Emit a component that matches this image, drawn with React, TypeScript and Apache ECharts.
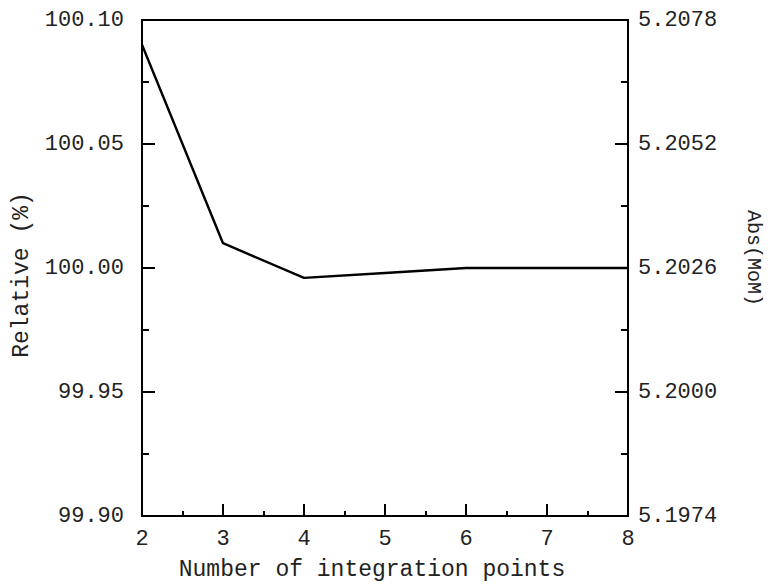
import React, { useEffect, useRef } from "react";
import * as echarts from "echarts";

// Number of integration points
const points = [2, 3, 4, 5, 6, 7, 8];
// Relative result (%)
const relative = [100.09, 100.01, 99.996, 99.998, 100.0, 100.0, 100.0];

// Left axis (relative, %) range
const relMin = 99.9;
const relMax = 100.1;
const relStep = 0.05;

// Right axis (absolute, MoM) range
const absMin = 5.1974;
const absMax = 5.2078;
const absStep = 0.0026;

const FONT = "Liberation Mono";
const INK = "#222";

export default function App() {
  const ref = useRef<HTMLDivElement>(null);

  useEffect(() => {
    document.body.style.margin = "0";
    if (!ref.current) return;
    const chart = echarts.init(ref.current, null, { renderer: "svg" });

    const labelStyle = { fontFamily: FONT, fontSize: 22, color: INK };
    const lineStyle = { color: "#000", width: 2 };

    chart.setOption({
      animation: false,
      backgroundColor: "#fff",
      grid: {
        left: 142,
        right: 134,
        top: 20,
        bottom: 69,
        show: true,
        borderColor: "#000",
        borderWidth: 2,
        backgroundColor: "transparent",
      },
      xAxis: {
        type: "value",
        min: 2,
        max: 8,
        interval: 1,
        name: "Number of integration points",
        nameLocation: "middle",
        nameGap: 42,
        nameTextStyle: { fontFamily: FONT, fontSize: 23, color: INK, padding: [0, 26, 0, 0] },
        axisLine: { show: true, lineStyle },
        axisTick: { show: true, inside: true, length: 12, lineStyle },
        minorTick: { show: true, splitNumber: 2, length: 5, lineStyle: { color: "#000", width: 2 } },
        axisLabel: { ...labelStyle, margin: 12 },
        splitLine: { show: false },
      },
      yAxis: [
        {
          type: "value",
          min: relMin,
          max: relMax,
          interval: relStep,
          position: "left",
          name: "Relative (%)",
          nameLocation: "middle",
          nameRotate: 90,
          nameGap: 108,
          nameTextStyle: { fontFamily: FONT, fontSize: 23, color: INK, padding: [0, 14, 0, 0] },
          axisLine: { show: true, lineStyle },
          axisTick: { show: true, inside: true, length: 13, lineStyle },
          minorTick: { show: true, splitNumber: 2, length: 7, lineStyle: { color: "#000", width: 2 } },
          axisLabel: {
            ...labelStyle,
            margin: 18,
            formatter: (v: number) => v.toFixed(2),
          },
          splitLine: { show: false },
        },
        {
          type: "value",
          min: absMin,
          max: absMax,
          interval: absStep,
          position: "right",
          name: "Abs(MoM)",
          nameLocation: "middle",
          nameRotate: -90,
          nameGap: 115,
          nameTextStyle: { fontFamily: FONT, fontSize: 20, color: INK, padding: [0, 20, 0, 0] },
          axisLine: { show: true, lineStyle },
          axisTick: { show: true, inside: true, length: 13, lineStyle },
          minorTick: { show: true, splitNumber: 2, length: 7, lineStyle: { color: "#000", width: 2 } },
          axisLabel: {
            ...labelStyle,
            margin: 10,
            formatter: (v: number) => v.toFixed(4),
          },
          splitLine: { show: false },
        },
      ],
      series: [
        {
          type: "line",
          yAxisIndex: 0,
          data: points.map((p, i) => [p, relative[i]]),
          showSymbol: false,
          symbol: "none",
          lineStyle: { color: "#000", width: 2.4 },
        },
      ],
    });

    return () => chart.dispose();
  }, []);

  return <div ref={ref} style={{ width: 771, height: 586 }} />;
}
